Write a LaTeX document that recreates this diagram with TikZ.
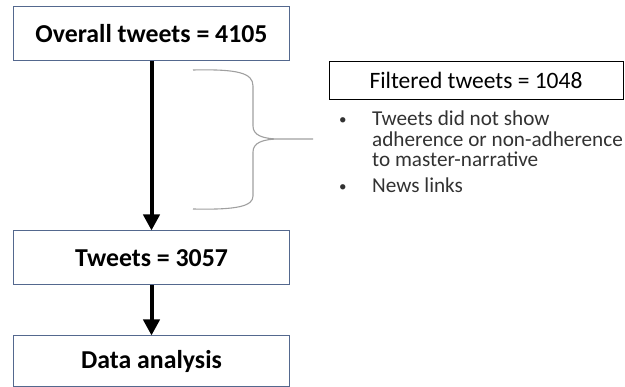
\documentclass[tikz,border=0pt]{standalone}
\usepackage{fontspec}
\setmainfont{Carlito}
\usetikzlibrary{arrows.meta,positioning}

\definecolor{boxline}{RGB}{84,104,142}
\definecolor{braceline}{RGB}{160,160,160}
\definecolor{listtext}{RGB}{50,50,50}

\newcommand{\dotmark}{\makebox[33pt][l]{\raisebox{1pt}{\fontsize{15}{15}\selectfont\textbullet}}}

\begin{document}
\begin{tikzpicture}[
    x=1pt, y=-1pt,
    stagebox/.style={draw=boxline, line width=1pt, minimum width=276pt, minimum height=54pt,
      inner sep=0pt, font=\fontsize{25.8}{28}\selectfont\bfseries},
    filtbox/.style={draw, line width=0.8pt, minimum width=294pt, minimum height=38pt,
      inner sep=0pt, font=\fontsize{23.5}{26}\selectfont},
    item/.style={inner sep=0pt, anchor=base west, text=listtext, font=\fontsize{21.2}{20}\selectfont},
    arr/.style={-{Triangle[width=16pt,length=16pt]}, line width=4pt},
  ]
    \useasboundingbox (0,0) rectangle (625,387);
    \node[stagebox] (all) at (151.5,34) {Overall tweets = 4105};
    \node[stagebox, below=169pt of all] (kept) {Tweets = 3057};
    \node[stagebox, below=50pt of kept, minimum height=50.5pt] (ana) {Data analysis};
    \node[filtbox] (filt) at (476,80) {Filtered tweets = 1048};
    \node[item] (it1) at (339,126) {\dotmark\parbox[t]{260pt}{\baselineskip=20.5pt Tweets did not show\\adherence or non-adherence\\to master-narrative}};
    \node[item] (it2) at (339,193) {\dotmark News links};

    \draw[arr] (all) -- (kept);
    \draw[arr] (kept) -- (ana);

    % brace
    \coordinate (tip) at (313,139);
    \draw[braceline, line width=1.1pt]
      (193,70) .. controls (238,69) and (253,73) .. (253,86) -- (253,126)
      .. controls (253,135) and (262,139) .. (280,139) -- (tip)
      (280,139) .. controls (262,139) and (253,143) .. (253,152) -- (253,196)
      .. controls (253,206) and (238,210) .. (193,209);
  \end{tikzpicture}
\end{document}
